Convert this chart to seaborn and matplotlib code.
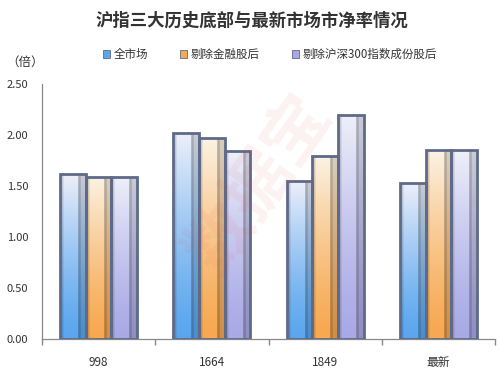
import numpy as np
import pandas as pd
import matplotlib
matplotlib.use("Agg")
import matplotlib.pyplot as plt
import seaborn as sns
from matplotlib.patches import Patch

categories = ["998", "1664", "1849", "最新"]
series_names = ["全市场", "剔除金融股后", "剔除沪深300指数成份股后"]
all_market = [1.62, 2.02, 1.55, 1.53]
ex_financial = [1.59, 1.97, 1.79, 1.85]
ex_hs300 = [1.59, 1.84, 2.20, 1.85]
y_ticks = [0.0, 0.5, 1.0, 1.5, 2.0, 2.5]

sns.set_theme(style="white")
plt.rcParams["font.family"] = ["Noto Sans CJK SC", "DejaVu Sans"]

df = pd.DataFrame({
    "cat": categories * 3,
    "series": sum([[s] * len(categories) for s in series_names], []),
    "val": all_market + ex_financial + ex_hs300,
})

bottom_cols = ["#5aa6ee", "#f7a850", "#a9a9e6"]
top_cols = ["#eef0fa", "#fbf3e4", "#eef0fa"]
edge_col = "#5e6a88"

fig = plt.figure(figsize=(5, 3.68), dpi=100)
ax = fig.add_axes([0.084, 0.079, 0.906, 0.693])

sns.barplot(data=df, x="cat", y="val", hue="series", order=categories,
            hue_order=series_names, palette=bottom_cols, width=0.68,
            edgecolor=edge_col, linewidth=2.0, ax=ax, legend=False, zorder=3)

for i, cont in enumerate(ax.containers):
    b = np.array(matplotlib.colors.to_rgb(bottom_cols[i]))
    t = np.array(matplotlib.colors.to_rgb(top_cols[i]))
    n = 120
    tt = np.linspace(0, 1, n) ** 1.3
    tt = tt[:, None, None]
    col = b * (1 - tt) + t * tt
    xs = np.linspace(0, 1, 30)
    shade = np.ones(30)
    shade[xs > 0.70] = 0.72
    shade[xs > 0.80] = 0.85
    shade[xs < 0.12] = 0.85
    img = np.clip(col * shade[None, :, None], 0, 1)
    for bar in cont:
        x0, w, h = bar.get_x(), bar.get_width(), bar.get_height()
        im = ax.imshow(img, extent=[x0, x0 + w, 0, h], origin="lower",
                       aspect="auto", zorder=3.5, interpolation="bilinear")
        im.set_clip_path(bar)
        bar.set_facecolor("none")
        bar.set_zorder(4)

ax.set_xlim(-0.5, len(categories) - 0.5)
ax.set_ylim(0, 2.5)
ax.set_yticks(y_ticks)
ax.set_yticklabels([f"{v:.2f}" for v in y_ticks], fontsize=8, color="#333333")
ax.set_xticks(range(len(categories)))
ax.set_xticklabels(categories, fontsize=8.5, color="#333333")
ax.set_xticks(np.arange(-0.5, len(categories)), minor=True)
ax.tick_params(axis="x", which="major", length=0, pad=12)
ax.tick_params(axis="x", which="minor", length=4, color="#888888", direction="out")
ax.tick_params(axis="y", length=4, color="#888888", direction="out", pad=6)
ax.xaxis.set_tick_params(which="minor", bottom=True)
ax.set_xlabel("")
ax.set_ylabel("")
for s in ["top", "right"]:
    ax.spines[s].set_visible(False)
for s in ["left", "bottom"]:
    ax.spines[s].set_color("#888888")
    ax.spines[s].set_linewidth(0.9)

fig.text(0.504, 0.945, "沪指三大历史底部与最新市场市净率情况", ha="center", va="center",
         fontsize=12.5, fontweight="bold", color="#333333")
fig.text(0.012, 0.83, "（倍）", ha="left", va="center", fontsize=9, color="#333333")

handles = [Patch(facecolor=bottom_cols[i], edgecolor=edge_col, linewidth=0.6) for i in range(3)]
fig.legend(handles, series_names, loc="center", bbox_to_anchor=(0.54, 0.852), ncol=3,
           frameon=False, fontsize=8.3, handlelength=0.6, handleheight=0.6,
           handletextpad=0.3, columnspacing=2.8, labelcolor="#333333")

fig.text(0.52, 0.5, "数据宝", ha="center", va="center", fontsize=48, rotation=55,
         color="#ee4444", alpha=0.07, fontweight="bold", zorder=10)

fig.savefig("out.png", dpi=100)
